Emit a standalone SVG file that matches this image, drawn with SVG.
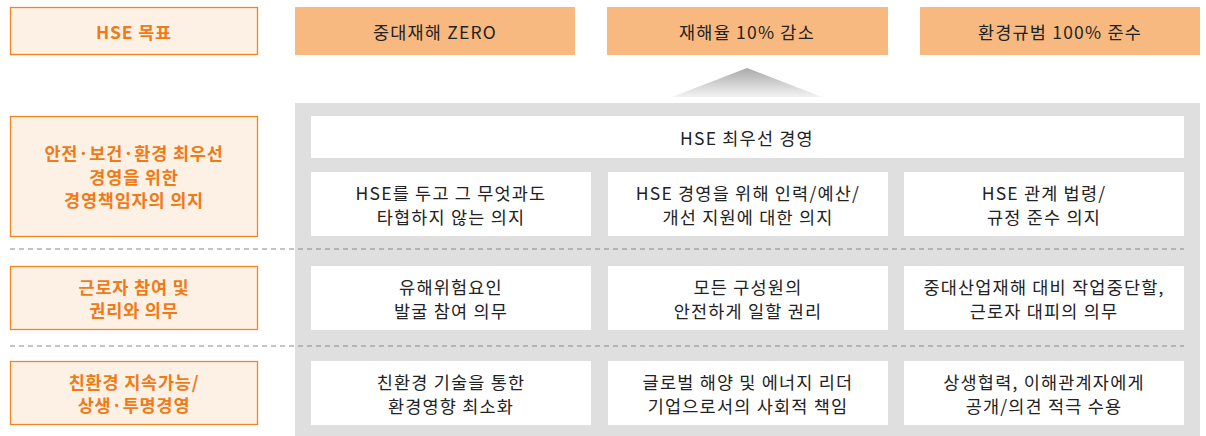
<svg xmlns="http://www.w3.org/2000/svg" width="1206" height="436" viewBox="0 0 1206 436">
<defs>
<linearGradient id="triGrad" x1="0" y1="0" x2="0" y2="1">
<stop offset="0" stop-color="#a9a9a9"/>
<stop offset="1" stop-color="#f3f3f3"/>
</linearGradient>
<style>
text{font-family:"Noto Sans CJK KR","Noto Sans",sans-serif;font-size:17.5px;letter-spacing:1.2px;text-anchor:middle;dominant-baseline:central}
.lbl{fill:#fdf1e6;stroke:#f4841f;stroke-width:1.3}
.lt{fill:#f07a16;font-weight:700;letter-spacing:0.8px}
.goal{fill:#f7b97f}
.wb{fill:#ffffff}
.bt{fill:#222222}
.sep{stroke:#8a8a8a;stroke-width:1.2;stroke-dasharray:5 4;fill:none}
</style>
</defs>
<rect width="1206" height="436" fill="#ffffff"/>
<rect id="panel" x="295" y="103" width="905" height="333" fill="#dfdfdf"/>
<g id="connectors">
<polygon points="747,68 672,97 822,97" fill="url(#triGrad)"/>
</g>
<g id="separators">
<line class="sep" x1="10" y1="249" x2="1184" y2="249"/>
<line class="sep" x1="10" y1="346" x2="1184" y2="346"/>
</g>
<g id="label-goal"><rect class="lbl" x="10.5" y="7.5" width="247" height="47"/><text class="lt" x="134" y="31">HSE 목표</text></g>
<g id="goal-1"><rect class="goal" x="295" y="7" width="280" height="48"/><text class="bt" x="435" y="31">중대재해 ZERO</text></g>
<g id="goal-2"><rect class="goal" x="607" y="7" width="281" height="48"/><text class="bt" x="747" y="31">재해율 10% 감소</text></g>
<g id="goal-3"><rect class="goal" x="920" y="7" width="280" height="48"/><text class="bt" x="1060" y="31">환경규범 100% 준수</text></g>
<g id="label-1"><rect class="lbl" x="10.5" y="116.5" width="247" height="120"/><text class="lt" x="134" y="152.5">안전·보건·환경 최우선</text><text class="lt" x="134" y="176">경영을 위한</text><text class="lt" x="134" y="199.5">경영책임자의 의지</text></g>
<g id="hse-top"><rect class="wb" x="311" y="116" width="873" height="42"/><text class="bt" x="747" y="137">HSE 최우선 경영</text></g>
<g id="r1c1"><rect class="wb" x="311" y="172" width="280" height="64"/><text class="bt" x="451" y="192">HSE를 두고 그 무엇과도</text><text class="bt" x="451" y="216">타협하지 않는 의지</text></g>
<g id="r1c2"><rect class="wb" x="608" y="172" width="280" height="64"/><text class="bt" x="748" y="192">HSE 경영을 위해 인력/예산/</text><text class="bt" x="748" y="216">개선 지원에 대한 의지</text></g>
<g id="r1c3"><rect class="wb" x="904" y="172" width="280" height="64"/><text class="bt" x="1044" y="192">HSE 관계 법령/</text><text class="bt" x="1044" y="216">규정 준수 의지</text></g>
<g id="label-2"><rect class="lbl" x="10.5" y="266.5" width="247" height="63"/><text class="lt" x="134" y="286">근로자 참여 및</text><text class="lt" x="134" y="309.5">권리와 의무</text></g>
<g id="r2c1"><rect class="wb" x="311" y="266" width="280" height="64"/><text class="bt" x="451" y="286">유해위험요인</text><text class="bt" x="451" y="310">발굴 참여 의무</text></g>
<g id="r2c2"><rect class="wb" x="608" y="266" width="280" height="64"/><text class="bt" x="748" y="286">모든 구성원의</text><text class="bt" x="748" y="310">안전하게 일할 권리</text></g>
<g id="r2c3"><rect class="wb" x="904" y="266" width="280" height="64"/><text class="bt" x="1044" y="286">중대산업재해 대비 작업중단할,</text><text class="bt" x="1044" y="310">근로자 대피의 의무</text></g>
<g id="label-3"><rect class="lbl" x="10.5" y="361.5" width="247" height="63"/><text class="lt" x="134" y="381">친환경 지속가능/</text><text class="lt" x="134" y="404.5">상생·투명경영</text></g>
<g id="r3c1"><rect class="wb" x="311" y="361" width="280" height="64"/><text class="bt" x="451" y="381">친환경 기술을 통한</text><text class="bt" x="451" y="405">환경영향 최소화</text></g>
<g id="r3c2"><rect class="wb" x="608" y="361" width="280" height="64"/><text class="bt" x="748" y="381">글로벌 해양 및 에너지 리더</text><text class="bt" x="748" y="405">기업으로서의 사회적 책임</text></g>
<g id="r3c3"><rect class="wb" x="904" y="361" width="280" height="64"/><text class="bt" x="1044" y="381">상생협력, 이해관계자에게</text><text class="bt" x="1044" y="405">공개/의견 적극 수용</text></g>
</svg>
